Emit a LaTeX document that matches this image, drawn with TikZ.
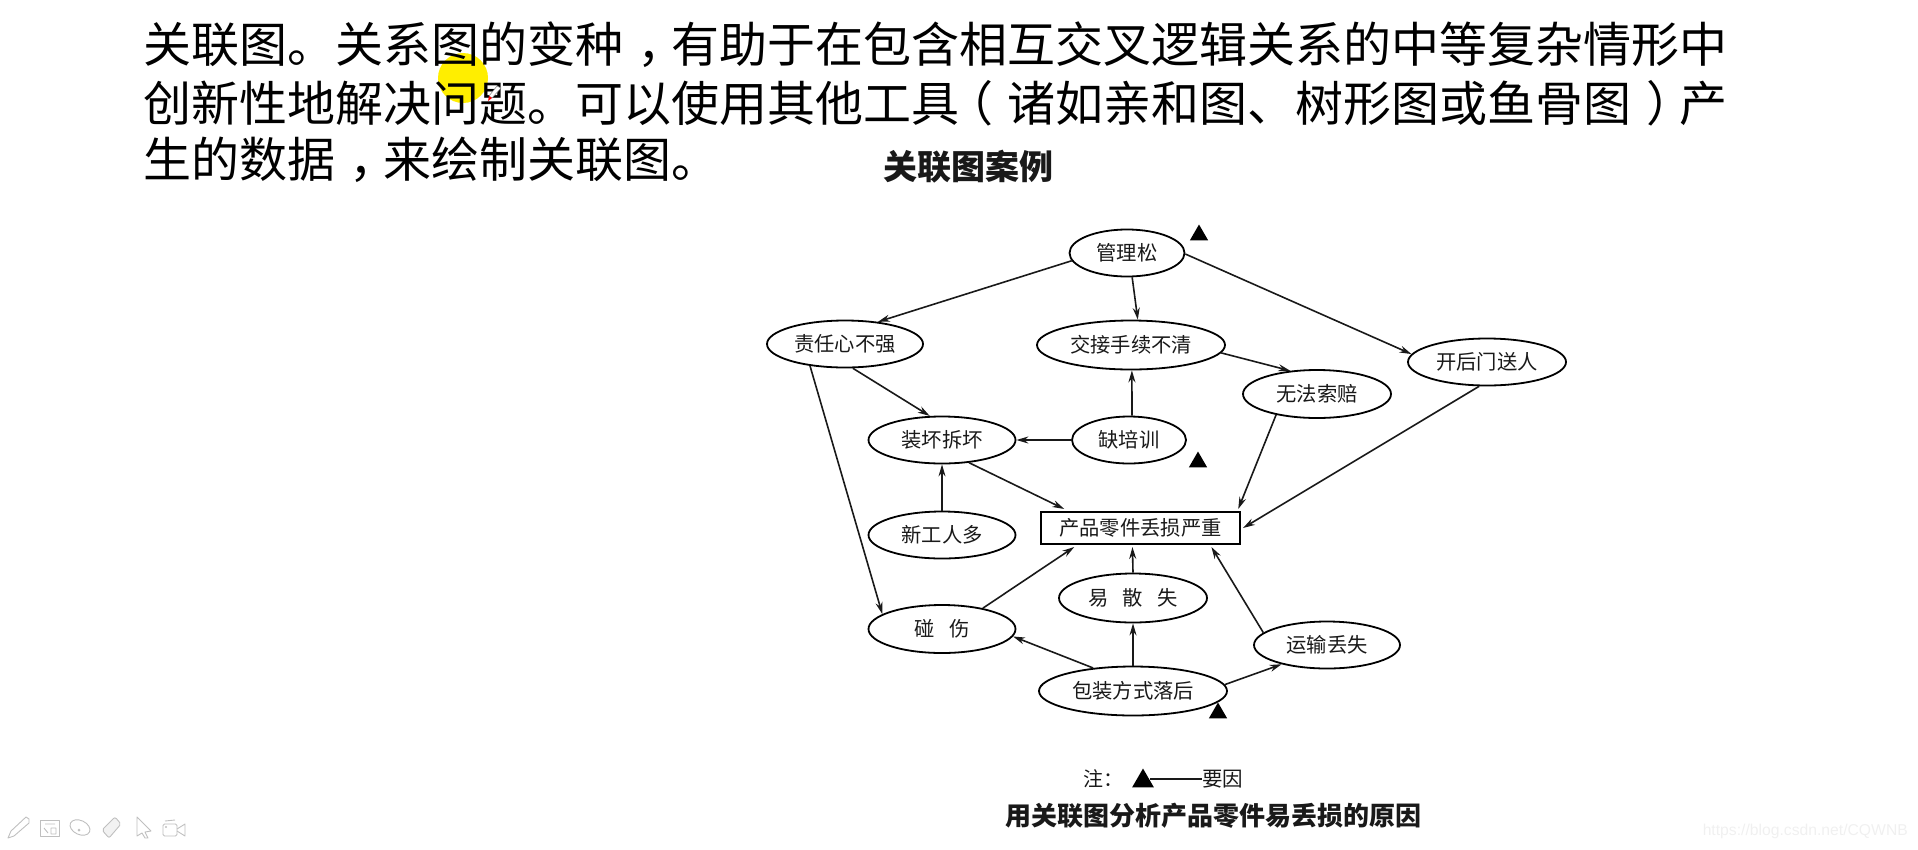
\documentclass[tikz,border=0pt]{standalone}
\usepackage{fontspec}
\setmainfont{Noto Sans CJK SC}
\newfontfamily\wmfont{Liberation Sans}
\usetikzlibrary{arrows.meta,shapes.geometric}
\definecolor{inkgray}{gray}{0.1}
\definecolor{penyellow}{RGB}{255,238,0}
\definecolor{toolgray}{gray}{0.75}
\newcommand{\midpunct}[2]{\hspace{#1em}#2\hspace{-#1em}}
\newcommand{\backpunct}[2]{\hspace{-#1em}#2\hspace{#1em}}
\tikzset{
  oval/.style 2 args={ellipse,draw,line width=1.8pt,inner sep=0pt,minimum width=#1pt,minimum height=#2pt,
    text=inkgray,font=\fontsize{20.3}{24}\selectfont},
  rootbox/.style={rectangle,draw,line width=2.2pt,inner sep=0pt,outer sep=3pt,minimum width=199pt,minimum height=32pt,
    text=inkgray,font=\fontsize{20.3}{24}\selectfont},
  keymark/.style={regular polygon,regular polygon sides=3,fill=black,inner sep=0pt,minimum size=21pt},
  bodyline/.style={anchor=west,inner sep=0pt,font=\fontsize{48}{58}\selectfont},
  link/.style={->,>={Stealth[length=12pt,width=7pt]},line width=1.6pt,inkgray},
  tool/.style={draw=toolgray,line width=0.9pt,line join=round}
}
\begin{document}
\begin{tikzpicture}[x=1pt,y=-1pt]
  \useasboundingbox (0,0) rectangle (1918,849);

  % slide text, highlighter under it
  \fill[penyellow] (463,78) circle (25);
  \node[bodyline] (line1) at (143.5,45) {关联图。关系图的变种\midpunct{0.28}{，}有助于在包含相互交叉逻辑关系的中等复杂情形中};
  \node[bodyline] (line2) at (143.5,103) {创新性地解决问题。可以使用其他工具\backpunct{0.3}{（}诸如亲和图、树形图或鱼骨图\midpunct{0.3}{）}产};
  \node[bodyline] (line3) at (143.5,160) {生的数据\midpunct{0.28}{，}来绘制关联图。};
  \fill[white,draw=gray,line width=0.5pt] (497,86) -- (501,88) -- (492,98) -- (489,96) -- cycle;
  \fill[red] (489,96) -- (492,98) -- (488,101) -- cycle;

  \node[inkgray,font=\fontsize{34}{38}\bfseries\selectfont] (title) at (968,167) {关联图案例};

  \node[oval={115}{47}] (mgmt) at (1127,253) {管理松};
  \node[oval={156}{47}] (duty) at (845,344) {责任心不强};
  \node[oval={188}{49}] (hand) at (1131,345) {交接手续不清};
  \node[oval={158}{47}] (back) at (1487,362) {开后门送人};
  \node[oval={148}{48}] (claim) at (1317,394) {无法索赔};
  \node[oval={147}{47}] (pack) at (942,440) {装坏拆坏};
  \node[oval={114}{47}] (train) at (1129,440) {缺培训};
  \node[oval={147}{47}] (newbie) at (942,535) {新工人多};
  \node[oval={148}{49}] (scatter) at (1133,598) {易\hspace{14pt}散\hspace{14pt}失};
  \node[oval={147}{48}] (bump) at (942,629) {碰\hspace{14pt}伤};
  \node[oval={146}{47}] (ship) at (1327,645) {运输丢失};
  \node[oval={188}{49}] (wrap) at (1133,691) {包装方式落后};
  \node[rootbox] (root) at (1140.5,528) {产品零件丢损严重};

  \node[keymark] (key1) at (1199,235) {};
  \node[keymark] (key2) at (1198,462) {};
  \node[keymark] (key3) at (1218,713) {};

  \path[link]
    (mgmt.188) edge (duty.34)
    (mgmt.282) edge (hand.75)
    (mgmt.359) edge (back.174)
    (duty.288) edge (pack.117)
    (duty.212) edge (bump.166)
    (hand.355) edge (claim.139)
    (train.83) edge (hand.272)
    (train.west) edge (pack.east)
    (claim.207) edge (root.11.8)
    (back.252) edge (root.east)
    (pack.320) edge (root.166)
    (newbie.north) edge (pack.south)
    (bump.27) edge (root.196.3)
    (scatter.north) edge (root.247)
    (wrap.150) edge (bump.354)
    (wrap.north) edge (scatter.south)
    (wrap.4) edge (ship.203)
    (ship.169) edge (root.345);

  % legend and caption
  \node[inkgray,font=\fontsize{20}{24}\selectfont] (note) at (1103,779) {注：};
  \node[keymark,minimum size=25pt] (legmark) at (1143,781) {};
  \node[inkgray,inner sep=0pt,anchor=west,font=\fontsize{20.5}{24}\selectfont] (legkey) at (1202,779) {要因};
  \draw[line width=1.2pt,inkgray] (legmark.east |- legkey.west) -- (legkey.west);
  \node[inkgray,font=\fontsize{26}{30}\bfseries\selectfont] (caption) at (1213,816) {用关联图分析产品零件易丢损的原因};

  % player toolbar
  \draw[tool] (8,838) -- (11,831) -- (26,817) -- (29,819) -- (29,823) -- (14,836) -- cycle;
  \draw[tool] (40,820) rectangle (59,836);
  \draw[tool] (45,824) -- (55,824) (44,828) -- (48,833) (51,828) rectangle (56,834);
  \draw[tool] (80,827.5) ellipse [x radius=10.5,y radius=7,rotate=-25];
  \fill[toolgray] (79,830) circle (1.5);
  \draw[tool,rounded corners=2pt,fill=gray!10] (102,830) -- (115,817) -- (121,824) -- (109,838) -- cycle;
  \draw[tool] (137,817) -- (151,831) -- (145,832) -- (148,838) -- (145,838) -- (142,833) -- (137,836) -- cycle;
  \draw[tool,rounded corners=1.5pt] (163,824) rectangle (177,836);
  \draw[tool] (165,821) -- (175,820) (177,829) -- (185,824) -- (185,836) -- (177,831);
  \fill[toolgray] (166,827) circle (1.2);

  \node[gray!12,font=\wmfont\fontsize{15.7}{18}\selectfont,inner sep=0pt,anchor=east] (mark) at (1908,831) {https://blog.csdn.net/CQWNB};
\end{tikzpicture}
\end{document}
